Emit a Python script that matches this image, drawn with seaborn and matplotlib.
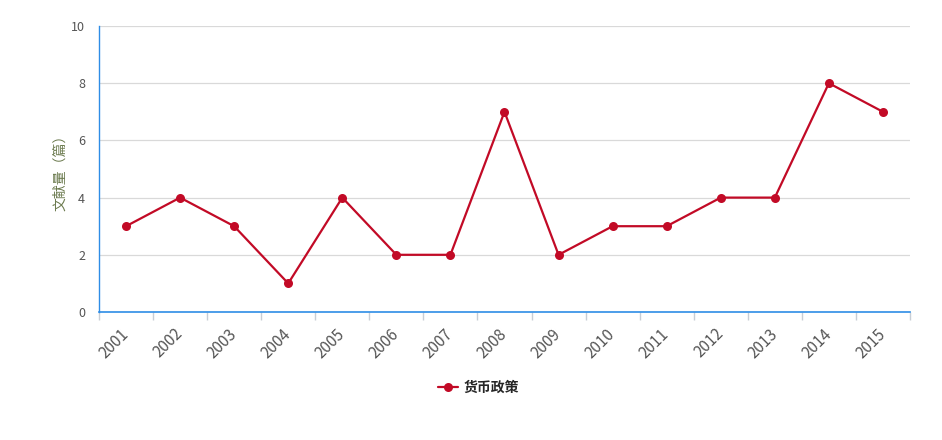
import numpy as np
import pandas as pd
import seaborn as sns
import matplotlib.pyplot as plt

years = ['2001', '2002', '2003', '2004', '2005', '2006', '2007', '2008',
         '2009', '2010', '2011', '2012', '2013', '2014', '2015']
counts = [3, 4, 3, 1, 4, 2, 2, 7, 2, 3, 3, 4, 4, 8, 7]
series_name = '货币政策'

sns.set_style('white')
plt.rcParams['font.family'] = ['Noto Sans CJK SC', 'DejaVu Sans']

df = pd.DataFrame({'year': years, 'count': counts, 'series': series_name})

fig = plt.figure(figsize=(9.42, 4.4), dpi=100)
ax = fig.add_axes([0.1051, 0.2909, 0.8609, 0.65])

red = '#c20a26'
sns.lineplot(data=df, x='year', y='count', hue='series', palette=[red],
             marker='o', markersize=6.5, markeredgewidth=0, linewidth=1.6,
             ax=ax, legend=False, sort=False)

ax.set_xlim(-0.5, len(years) - 0.5)
ax.set_ylim(0, 10)
ax.set_yticks([0, 2, 4, 6, 8, 10])
ax.yaxis.grid(True, color='#d9d9d9', linewidth=0.9)
ax.set_axisbelow(True)

ax.set_xticks(range(len(years)))
ax.set_xticklabels(years, rotation=45, ha='right', va='center',
                   rotation_mode='anchor', fontsize=11, color='#555555')
ax.set_xticks(np.arange(-0.5, len(years), 1.0), minor=True)
ax.tick_params(axis='x', which='major', bottom=True, length=0, pad=14)
ax.tick_params(axis='x', which='minor', bottom=True, length=6, color='#c8ced6', width=1)
ax.tick_params(axis='y', length=0, labelsize=9, labelcolor='#555555', pad=10)

for s in ['top', 'right']:
    ax.spines[s].set_visible(False)
ax.spines['left'].set_color('#2e8de6')
ax.spines['bottom'].set_color('#2e8de6')
ax.spines['left'].set_linewidth(1)
ax.spines['bottom'].set_linewidth(1.2)

ax.set_xlabel('')
ax.set_ylabel('文献量（篇）', fontsize=10, color='#6b7a4e', labelpad=3)

handle = plt.Line2D([], [], color=red, marker='o', markersize=6.5,
                    markeredgewidth=0, linewidth=1.6)
fig.legend([handle], [series_name], loc='center', bbox_to_anchor=(0.508, 0.118),
           frameon=False, handlelength=1.4, handletextpad=0.4,
           prop={'weight': 'bold', 'size': 10})

fig.savefig('out.png', dpi=100)
